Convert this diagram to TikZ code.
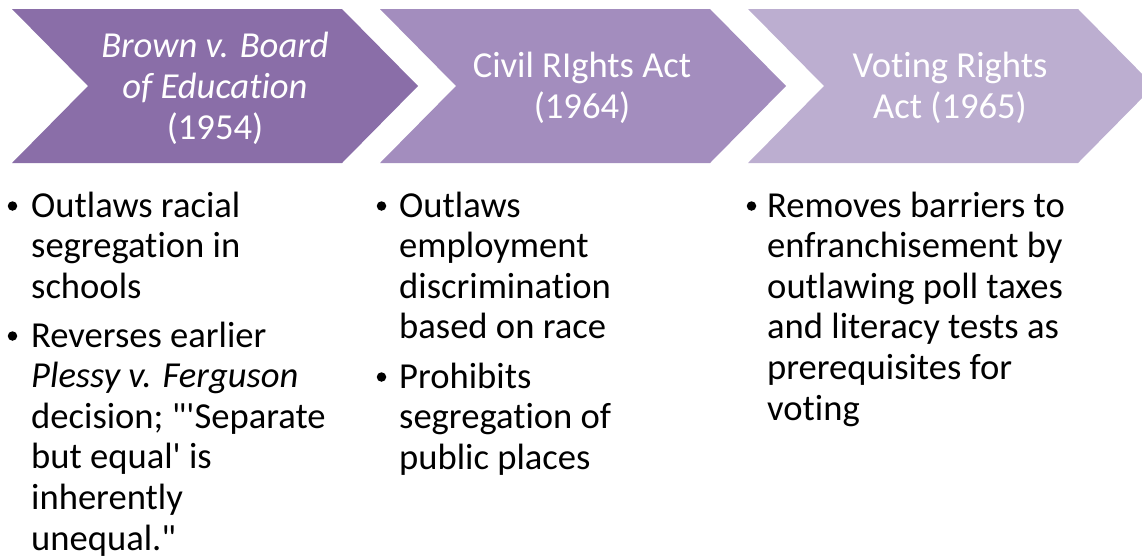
\documentclass[tikz,border=0pt]{standalone}
\usepackage{fontspec}
\newfontfamily\calfont{Carlito}[RawFeature={-liga;-clig;-calt;-dlig}]
\definecolor{chevA}{HTML}{8A6EA8}
\definecolor{chevB}{HTML}{A38DBE}
\definecolor{chevC}{HTML}{BCAED0}
\begin{document}
\begin{tikzpicture}[x=1pt,y=-1pt,
  headtext/.style={text=white, align=center, inner sep=0pt,
    font=\calfont\fontsize{36.6}{41}\selectfont},
  itemtext/.style={anchor=base west, inner sep=0pt, text=black,
    font=\calfont\fontsize{36.6}{40.6}\selectfont},
  bulletdot/.style={circle, fill=black, inner sep=0pt, minimum size=9.5pt}]
\useasboundingbox (0,0) rectangle (1142,558);
% chevrons
\fill[chevA] (12,9) -- (342,9) -- (418,86) -- (342,163) -- (12,163) -- (88,86) -- cycle;
\fill[chevB] (380,9) -- (710,9) -- (786,86) -- (710,163) -- (380,163) -- (456,86) -- cycle;
\fill[chevC] (748,9) -- (1078,9) -- (1154,86) -- (1078,163) -- (748,163) -- (824,86) -- cycle;
% chevron labels
\node[headtext] (h1) at (215,88) {\itshape Brown v. Board\\\itshape of Education\\(1954)};
\node[headtext] (h2) at (582,88) {Civil RIghts Act\\(1964)};
\node[headtext] (h3) at (950,88) {Voting Rights\\Act (1965)};
% column 1
\node[bulletdot] (d11) at (12.5,206) {};
\node[itemtext] (t11) at (31,217) {\begin{tabular}[t]{@{}l@{}}Outlaws racial\\segregation in\\schools\end{tabular}};
\node[bulletdot] (d12) at (12.5,336) {};
\node[itemtext] (t12) at (31,347) {\begin{tabular}[t]{@{}l@{}}Reverses earlier\\\itshape Plessy v. Ferguson\\decision; "\textquotesingle Separate\\but equal\textquotesingle{} is\\inherently\\unequal."\end{tabular}};
% column 2
\node[bulletdot] (d21) at (381.5,206) {};
\node[itemtext] (t21) at (399,217) {\begin{tabular}[t]{@{}l@{}}Outlaws\\employment\\discrimination\\based on race\end{tabular}};
\node[bulletdot] (d22) at (381.5,377) {};
\node[itemtext] (t22) at (399,388) {\begin{tabular}[t]{@{}l@{}}Prohibits\\segregation of\\public places\end{tabular}};
% column 3
\node[bulletdot] (d31) at (751.5,206) {};
\node[itemtext] (t31) at (767,217) {\begin{tabular}[t]{@{}l@{}}Removes barriers to\\enfranchisement by\\outlawing poll taxes\\and literacy tests as\\prerequisites for\\voting\end{tabular}};
\end{tikzpicture}
\end{document}
